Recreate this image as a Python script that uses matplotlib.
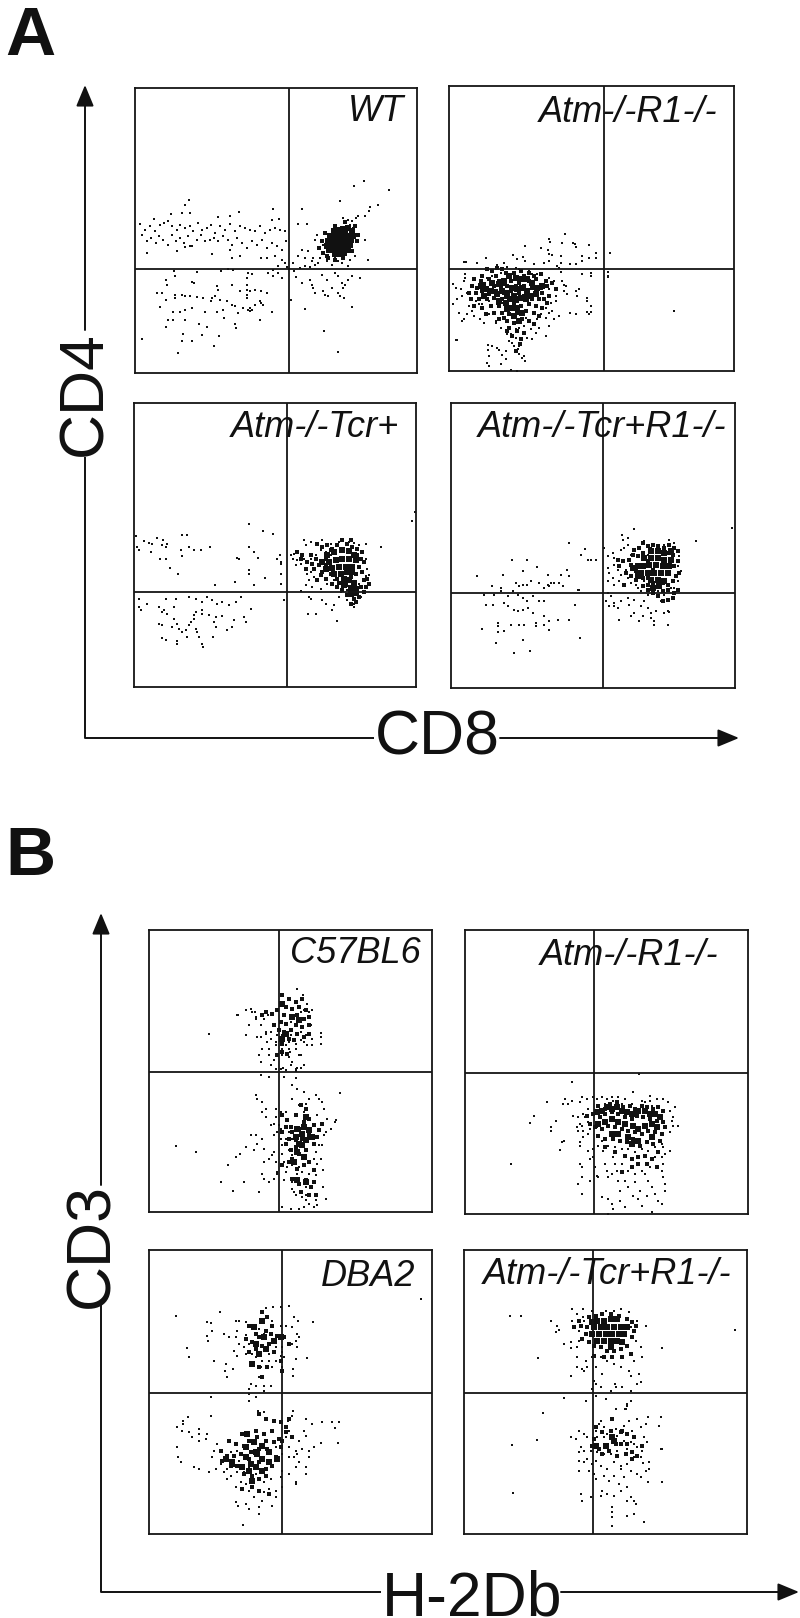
import matplotlib
matplotlib.use("Agg")
import matplotlib.pyplot as plt

plt.rcParams['font.family'] = ['Liberation Sans', 'DejaVu Sans']

W, H = 800, 1618

# (channel x, channel y)
WT_EVENTS = [(161,520),(151,505),(141,480),(166,480),(109,478),(56,463),(311,483),(284,472),(414,492),(411,460),(431,462),(248,468),
    (16,448),(30,430),(45,440),(60,425),(75,445),(88,450),(100,455),(112,440),(125,430),(135,445),(150,435),(165,440),(175,425),(190,450),(200,430),(215,435),(228,445),(240,420),(255,440),(270,430),(285,448),(300,425),(315,440),(330,435),(345,430),(360,425),(375,440),(390,420),(405,430),(420,435),(435,430),(450,425),
    (20,415),(35,395),(48,405),(62,390),(72,410),(85,400),(98,385),(110,415),(122,395),(135,405),(148,390),(160,410),(172,380),(185,400),(198,415),(210,395),(225,400),(238,405),(250,395),(265,410),(280,400),(292,385),(305,405),(320,390),(335,375),(350,395),(365,385),(380,400),(395,375),(410,390),(425,380),(440,370),(452,395),
    (35,360),(125,365),(232,358),(150,378),(165,382),(285,370),(315,350),(290,345),(378,345),(395,345),(420,350),(440,340),(450,330),(455,318),(430,322),(415,310),
    (475,330),(490,350),(500,370),(510,345),(520,365),(530,335),(540,325),(555,345),(565,385),(495,315),(510,320),(525,318),(535,345),(548,330),(575,335),(590,325),(600,345),(620,330),(640,320),(560,400),(490,448),(515,447),(545,415),(540,400),(700,340),
    (664,465),(650,455),(640,460),(625,465),(690,400),(668,395),(672,410),(660,350),(645,340),(620,345),(610,335),
    (118,305),(120,292),(185,302),(258,305),(280,312),(295,310),(340,300),(350,298),(400,300),(415,290),(430,300),(440,285),(92,280),(95,265),(172,272),(178,270),(245,260),(250,250),(335,285),(335,265),(335,250),(335,235),(335,225),(290,265),(315,245),(345,245),(360,250),(378,245),(395,240),
    (67,240),(82,240),(120,235),(120,225),(140,233),(150,232),(165,230),(185,228),(205,225),(230,225),(240,230),(228,215),(255,218),(275,215),(290,205),(300,200),(325,195),(345,195),(360,205),(378,210),(340,190),(345,185),(350,188),
    (75,198),(92,220),(115,182),(135,183),(150,190),(170,195),(210,183),(245,182),(265,190),(308,180),(412,183),(375,215),(385,205),
    (468,218),(477,305),(482,288),(500,270),(525,280),(530,265),(535,255),(540,240),(560,295),(575,280),(565,245),(590,255),(600,300),(610,290),(620,270),(630,265),(640,280),(625,255),(615,232),(608,240),(628,225),(650,290),(675,285),(570,235),(580,232),
    (21,102),(128,60),(238,80),(141,95),(171,95),(144,117),(201,115),(253,112),(93,137),(216,137),(304,135),(299,148),(191,148),(99,158),(114,158),(149,158),(376,158),(268,165),(609,64),(568,127),(511,193),(651,198),
    (688,576),(656,560),(761,550),(729,504),(706,498),(701,485),(691,472),(669,470),(614,515),(502,492),(645,445),(655,435)]
WT_DENSE = [(560,395),(552,375),(565,360),(580,345),(600,340),(625,345),(650,365),(665,395),(668,415),(660,440),(630,452),(600,440),(570,420),(575,350)]
WT_CORE = [(596,425),(610,428),(625,432),(640,435),(650,425),(585,410),(600,412),(615,415),(630,418),(645,412),(655,410),(578,395),(592,398),(606,400),(620,402),(634,404),(648,398),(575,382),(590,382),(604,385),(618,388),(632,390),(645,384),(582,370),(598,370),(612,372),(626,375),(638,370),(600,358),(614,358),(626,360)]

ATM_EVENTS = [(348,412),(300,396),(338,385),(372,384),(378,380),(302,388),(229,376),(420,379),(380,372),(296,362),(276,370),(440,355),(482,355),(192,348),(222,342),(300,350),(310,348),(335,345),(400,345),(420,340),(440,340),
    (398,330),(362,320),(380,322),(335,325),(325,315),(300,330),(285,325),(255,322),(228,330),(205,335),(165,325),(112,340),(45,328),(50,328),(85,325),(145,318),(175,312),(200,310),(210,305),(330,308),(335,298),
    (425,295),(425,285),(477,298),(478,283),(400,290),(300,280),(315,270),(12,260),(47,290),(48,280),(45,270),(20,250),(35,245),(55,235),(40,225),(70,220),(80,210),(25,215),(12,200),(60,195),(90,200),(30,175),(38,150),(45,155),(55,170),(70,180),
    (340,270),(345,258),(352,255),(345,240),(380,240),(385,225),(354,230),(390,245),(415,220),(300,245),(320,225),(305,205),(320,210),(415,210),(425,195),(415,178),(420,170),(364,175),(380,170),(425,178),(290,190),(310,180),(330,165),(290,160),
    (75,165),(92,155),(105,145),(120,170),(140,145),(155,130),(170,120),(185,110),(200,125),(210,130),(225,135),(245,125),(260,115),(235,100),(250,95),(290,105),(270,130),(300,135),(180,90),(190,85),(200,100),(175,110),
    (118,78),(118,62),(120,45),(130,75),(145,68),(150,62),(170,60),(160,48),(170,35),(195,75),(210,75),(208,65),(210,50),(225,45),(220,38),(228,30),(115,25),(120,15),(155,22),(185,2),(205,0),(20,92),(25,92),
    (482,355),(476,285),(674,180),(100,260),(115,280),(130,285),(155,295),(180,290),(240,300),(250,290),(265,290),(100,200),(120,210),(145,200),(160,205),(300,175),(315,155),(275,170),(140,150),(230,160),(265,155)]
ATM_DENSE = [(130,300),(160,305),(195,295),(215,300),(240,295),(100,285),(140,285),(170,295),(225,285),(255,285),(275,290),(75,275),(95,270),(120,275),(150,270),(185,270),(210,265),(240,270),(262,275),(290,270),(310,265),(70,255),(85,250),(105,260),(135,255),(155,250),(175,255),(200,255),(225,255),(250,250),(275,250),(295,255),(320,245),(60,235),(80,235),(100,240),(120,230),(140,240),(165,235),(185,240),(210,235),(235,230),(260,235),(280,235),(300,225),(65,215),(90,215),(115,215),(135,220),(160,215),(180,220),(205,210),(225,225),(250,215),(270,215),(295,205),(75,195),(100,190),(125,195),(150,195),(170,200),(195,200),(215,195),(240,200),(260,195),(280,190),(110,170),(135,175),(160,175),(180,170),(205,175),(230,180),(255,175),(270,165),(150,155),(175,150),(195,145),(220,155),(240,150),(255,140),(180,130),(205,120),(225,115),(190,105),(215,95),(200,60),(212,80),(175,120),(165,160),(285,215),(145,310),(115,305)]
ATM_CORE = [(95,255),(110,245),(125,240),(105,225),(130,265),(150,260),(165,270),(180,285),(200,280),(215,275),(145,230),(160,240),(175,235),(190,250),(205,245),(220,250),(235,240),(250,265),(265,250),(150,210),(170,205),(185,215),(200,215),(215,220),(230,215),(245,225),(175,185),(190,190),(205,190),(220,175),(195,165),(210,150),(165,265),(175,225),(195,225),(260,230),(280,255),(235,275)]

TCR_EVENTS = [(346,488),(834,498),(844,525),(387,468),(418,460),(5,452),(30,437),(45,432),(55,428),(70,447),(88,440),(100,428),(85,425),(145,457),(160,457),(8,420),(15,410),(50,405),(95,420),(165,420),(140,412),(145,392),(165,420),(180,412),(200,410),(227,420),(346,420),(360,405),(372,388),(310,388),(315,385),(78,385),(97,383),(107,358),(132,338),(346,352),(346,340),(392,327),(302,314),(242,307),(360,305),(438,395),(430,385),(440,370),(440,340),(440,310),(440,375),
    (740,420),(695,430),(675,425),(660,432),(645,435),(615,435),(590,430),(565,440),(530,435),(515,425),(510,440),(480,400),(472,395),(478,385),(490,380),(500,370),(485,365),(510,385),(530,385),(545,395),(560,410),(575,405),(590,395),(520,340),(530,345),(540,330),(525,320),(515,305),(535,300),(560,295),(580,310),(600,320),(580,350),(695,385),(700,355),(705,335),(695,333),(675,310),
    (15,265),(40,250),(15,240),(20,230),(75,240),(85,225),(90,230),(100,220),(120,240),(125,265),(95,265),(165,270),(185,265),(205,255),(220,270),(235,260),(250,250),(265,255),(285,245),(305,255),(320,270),(350,235),(450,260),(180,215),(180,205),(185,225),(205,230),(225,215),(245,210),(265,212),(300,200),(330,210),(335,195),(295,180),(280,170),(240,195),(245,180),(205,220),
    (75,190),(85,185),(115,180),(120,205),(130,190),(135,175),(145,165),(155,170),(165,185),(170,195),(190,165),(195,150),(185,175),(160,150),(83,148),(97,140),(128,130),(128,138),(205,130),(238,150),(207,120),(522,218),(547,218),(595,230),(610,197),(525,270),(530,265),(565,260),(575,250),(600,245),(615,270),(640,260),(660,250),(660,240),(680,270),(500,288),(640,290),(620,285)]
TCR_DENSE = [(490,405),(505,395),(520,375),(535,370),(500,385),(550,430),(565,420),(575,385),(540,355),(555,365),(565,345),(580,425),(595,415),(610,425),(625,440),(640,430),(655,420),(670,415),(685,405),(680,385),(690,375),(670,395),(675,360),(685,345),(665,340),(650,330),(690,320),(705,310),(680,300),(690,285),(675,270),(660,265),(640,275),(625,290),(610,300),(595,310),(575,325),(560,335),(550,320),(610,325),(590,340),(575,365),(590,410),(650,440),(695,300),(700,325),(665,255),(650,250),(635,305),(615,312),(545,385),(530,395),(515,355)]
TCR_CORE = [(580,395),(600,405),(625,410),(645,408),(660,395),(565,375),(585,375),(605,380),(625,385),(645,385),(665,380),(575,355),(595,358),(615,360),(635,360),(655,360),(600,340),(620,340),(640,345),(655,345),(630,325),(645,320),(660,312),(630,305),(650,298),(665,295),(650,280),(665,282)]

TCRR1_EVENTS = [(549,477),(735,440),(844,480),(354,435),(513,459),(530,450),(402,417),(390,400),(412,385),(420,385),(435,385),(182,383),(229,383),(259,362),(155,340),(77,337),(217,350),(290,340),(347,355),(330,340),(355,335),(300,315),(310,315),(290,310),(325,315),(335,305),(380,295),(385,295),
    (123,307),(150,300),(195,315),(205,305),(215,310),(228,308),(240,320),(265,315),(280,300),(295,305),(98,280),(130,280),(150,290),(170,275),(185,290),(200,280),(215,270),(228,262),(245,275),(265,260),(280,262),(372,250),(105,248),(125,248),(160,255),(170,245),(190,235),(200,230),(215,235),(230,240),(245,225),(280,215),(295,200),(280,190),(320,205),(355,205),(140,195),(140,185),(180,188),(205,188),(218,188),(255,185),(255,195),(92,177),(142,168),(160,172),(295,175),(216,145),(134,135),(190,105),(238,112),(387,150),
    (470,285),(480,275),(465,260),(490,255),(510,262),(530,270),(475,245),(490,245),(500,240),(535,250),(550,265),(570,245),(580,260),(590,240),(600,225),(550,225),(540,215),(575,215),(600,210),(615,230),(630,260),(640,225),(650,230),(610,200),(650,190),(610,190),(655,228),(505,205),(565,200),
    (515,445),(520,420),(530,430),(510,415),(470,395),(485,405),(490,390),(460,420),(470,360),(475,345),(490,370),(500,355),(510,340),(525,355),(540,400),(530,330),(505,320),(540,315),(555,310),(570,335),(590,400),(600,420),(580,440),(615,410),(640,430),(655,445),(670,435),(685,395),(680,365),(690,350),(680,320),(660,300),(670,300),(630,300),(600,305),(580,320),(485,330),(490,310),(470,320),(560,300),(640,280),(655,290),(620,290),(590,280),(570,290)]
TCRR1_DENSE = [(535,385),(545,400),(550,415),(565,420),(575,435),(590,425),(605,430),(620,425),(640,420),(655,430),(670,420),(680,410),(665,400),(680,380),(670,365),(685,345),(675,335),(665,320),(650,310),(635,315),(620,310),(605,315),(590,310),(575,305),(555,325),(540,335),(525,345),(515,380),(560,395),(575,405),(590,380),(605,355),(540,370),(555,350),(575,330),(590,330),(650,295),(635,290),(620,275),(605,285),(590,295),(670,285),(680,295),(665,270),(650,265),(635,260),(655,405),(500,385),(505,365),(520,310)]
TCRR1_CORE = [(600,410),(620,410),(640,405),(660,410),(580,390),(600,390),(620,390),(640,385),(660,385),(545,360),(560,365),(575,365),(595,370),(615,370),(635,365),(655,365),(570,345),(590,345),(610,345),(630,345),(650,345),(560,335),(600,325),(620,325),(640,320),(605,300),(625,305)]

C57_EVENTS = [(180,535),(268,590),(358,590),(318,600),(300,560),(345,580),(425,570),(455,600),(465,605),(480,600),(290,530),(265,590),(310,600),(320,580),
    (290,605),(305,610),(320,585),(335,560),(350,540),(365,520),(380,510),(405,520),(420,510),(440,505),(455,515),(465,510),(485,560),(515,538),(490,605),(475,625),(463,650),(445,670),(400,490),(380,500),(355,510),(340,490),(330,470),(360,470),(375,455),(400,470),(420,465),(430,450),(450,470),
    (515,505),(517,525),(490,520),(470,530),(490,500),(335,525),(325,525),(350,535),(365,540),(385,530),(400,530),(425,530),(440,530),(455,540),(475,500),(440,490),(420,490),(425,440),(440,430),(365,440),(380,430),(395,430),(410,500),(360,490),
    (335,450),(360,405),(335,410),(440,402),(445,432),(440,422),(455,432),(422,480),(402,432),(405,405),(410,425),(465,442),(455,470),
    (445,370),(465,360),(430,380),(573,358),(558,270),(562,275),(82,198),(140,180),(238,140),(216,90),(285,90),(252,62),(340,330),(320,350),(325,340),(340,300),(350,310),(380,310),(395,300),(410,300),(430,340),(450,320),(465,300),(470,325),(480,340),(500,350),(510,340),(520,330),(525,310),(535,280),(545,250),(530,240),(520,200),(515,160),(523,125),(522,75),(530,40),(505,20),(500,35),
    (345,150),(340,115),(345,100),(330,60),(360,90),(375,100),(385,120),(415,135),(430,140),(435,60),(430,70),(440,50),(460,45),(470,35),(480,25),(495,15),(465,15),(425,10),(400,15),(450,10),
    (320,230),(325,205),(305,230),(315,185),(290,195),(272,175),(260,165),(340,220),(345,190),(360,160),(370,170),(395,220),(375,230),(375,180),(380,150),(385,115),(385,240),(390,260),(375,265),(365,260),(350,285),(380,285),(395,250),
    (400,175),(405,150),(410,120),(405,95),(400,200),(410,220),(420,240),(430,220),(440,230),(430,190),(430,170),(440,150),(420,185),(450,135),(460,120),(480,115),(500,110),(510,200),(500,180),(505,145),(495,160),(510,250),(505,290),(525,230),(430,90),(440,90),(470,75),(445,115),(470,50)]
C57_DENSE = [(400,650),(420,640),(440,630),(460,640),(395,620),(410,615),(430,610),(450,615),(470,605),(350,600),(370,595),(385,605),(405,590),(425,585),(445,590),(465,580),(480,585),(340,590),(395,570),(410,565),(440,560),(460,555),(480,560),(375,560),(390,545),(405,540),(425,545),(445,535),(465,525),(480,535),(420,520),(435,515),(400,505),(385,470),(400,480),(415,475),
    (400,290),(415,275),(425,255),(440,290),(455,320),(470,310),(480,280),(495,260),(510,245),(465,270),(450,250),(430,240),(410,255),(400,240),(420,220),(440,215),(460,220),(480,230),(495,205),(470,185),(450,175),(430,160),(420,150),(400,140),(445,130),(465,140),(480,150),(495,125),(430,100),(450,85),(470,95),(485,75),(495,90),(410,205),(425,185),(440,195),(505,225),(520,265),(455,60),(480,50),(500,50)]
C57_CORE = [(400,625),(430,585),(450,575),(410,535),(400,520),(445,250),(465,255),(480,245),(440,225),(450,205),(470,215),(445,180),(465,165),(445,95),(470,90),(470,285),(490,225),(460,200),(435,150),(460,235)]

BATM_EVENTS = [(138,150),(320,397),(521,420),(247,335),(208,295),(196,273),(258,262),(257,248),(273,280),(291,215),(285,193),(298,218),(293,330),(300,345),(310,330),(320,340),(325,295),(335,260),(340,250),(345,335),
    (350,350),(365,345),(385,350),(395,345),(410,350),(425,345),(440,350),(460,350),(480,345),(505,365),(530,340),(555,355),(555,340),(575,345),(595,345),(610,335),(615,310),(620,280),(625,265),(640,263),(615,245),(560,325),(540,335),(500,330),(470,330),(445,340),(420,330),
    (340,290),(345,270),(350,265),(360,290),(370,275),(345,215),(355,230),(345,205),(370,190),(385,195),(345,150),(350,140),(350,110),(340,90),(350,60),(375,100),(375,165),(385,170),(390,140),(395,115),(415,190),(420,150),(425,130),(430,110),(445,170),(455,130),(460,100),(400,110),(410,50),(430,45),(440,30),(445,15),(430,0),(465,40),(480,20),(505,55),(520,45),
    (540,120),(550,100),(560,80),(570,60),(580,40),(590,30),(600,70),(600,90),(595,110),(590,130),(595,150),(590,170),(570,170),(555,140),(530,130),(510,120),(490,130),(470,150),(450,150),(440,120),(465,70),(490,80),(510,95),(525,70),(545,55),(560,5),(530,25),(480,100),
    (595,200),(600,180),(590,210),(570,200),(550,190),(530,195),(510,185),(490,195),(470,195),(450,200),(430,205),(410,220),(395,230),(355,250),(370,240),(375,255),(355,300),(370,315),(390,300),(395,260),(400,205),(425,280),(615,190),(625,290),(630,320)]
BATM_DENSE = [(400,325),(420,315),(435,330),(455,335),(475,320),(495,325),(510,315),(530,325),(545,320),(565,315),(580,320),(595,310),(385,300),(405,290),(420,300),(440,305),(460,300),(480,290),(500,285),(515,295),(535,290),(555,285),(575,280),(595,275),(390,260),(410,255),(430,265),(450,260),(470,255),(490,250),(510,245),(530,240),(550,250),(570,245),(590,240),(600,260),(400,235),(420,225),(445,225),(465,220),(485,215),(505,225),(525,205),(545,215),(565,210),(585,220),(420,200),(450,185),(480,175),(500,165),(520,170),(540,175),(560,165),(580,185),(470,125),(500,140),(520,150),(545,150),(575,140),(365,295),(375,270)]
BATM_CORE = [(395,305),(410,310),(425,320),(440,315),(455,320),(470,310),(485,305),(500,300),(520,310),(540,310),(555,300),(570,300),(585,290),(400,270),(420,275),(440,285),(460,275),(480,270),(505,265),(520,255),(540,265),(560,270),(575,260),(440,240),(460,240),(490,230),(500,210),(520,220),(560,230)]

DBA_EVENTS = [(816,705),(82,655),(491,635),(212,665),(175,637),(185,632),(190,610),(175,595),(178,580),(115,557),(120,532),(196,520),(232,510),(228,490),(235,470),(252,495),(260,640),(265,610),(290,598),(300,570),(310,540),(320,530),(335,500),(330,470),(345,430),(306,450),(320,445),(300,420),(320,410),(345,445),(365,445),(396,680),(372,680),(350,678),(420,684),(435,650),(448,640),(450,590),(440,578),(445,560),(475,528),(442,525),(433,495),(433,474),(300,436),
    (270,640),(290,635),(310,620),(330,615),(345,600),(370,640),(395,625),(410,625),(430,620),(445,600),(225,600),(240,590),(260,590),(270,570),(285,560),(255,550),(265,535),(290,540),(380,560),(400,560),(430,570),(395,535),(400,545),(360,540),(380,520),(360,520),(340,520),(350,500),(370,500),(400,500),(405,530),
    (186,410),(300,398),(327,368),(345,365),(433,370),(185,355),(118,352),(103,340),(103,330),(418,340),(470,345),(490,330),(518,335),(568,272),(570,335),(557,318),(548,335),(496,260),(515,273),(472,293),(430,355),(465,310),(450,280),(440,250),(420,310),(410,290),
    (85,320),(100,310),(120,305),(150,315),(150,300),(175,300),(150,280),(130,290),(170,285),(85,260),(88,230),(95,215),(135,200),(150,195),(180,185),(200,195),(225,185),(235,195),(255,205),(235,165),(260,140),(267,85),(283,28),(260,95),(290,90),(300,75),(330,80),(330,60),(370,85),(380,110),(380,130),(400,140),(440,155),(442,150),(400,190),(420,180),(440,200),(450,215),(470,180),(480,230),(480,250),
    (195,250),(205,270),(190,230),(215,210),(235,230),(245,245),(265,250),(270,220),(245,175),(275,155),(290,150),(300,130),(315,110),(340,100),(345,125),(360,135),(320,180),(300,200),(265,185),(285,185),(345,155),(365,165),(395,170),(420,230),(435,230),(445,240),(460,255),(470,200),(380,260),(400,240),(420,260)]
DBA_DENSE = [(340,665),(355,650),(370,625),(300,625),(320,600),(290,585),(310,575),(330,590),(350,610),(365,600),(385,595),(405,590),(420,570),(300,545),(320,555),(340,565),(360,570),(375,545),(395,520),(355,500),(330,500),(400,490),(340,470),
    (330,360),(350,345),(375,340),(395,335),(410,320),(420,345),(320,310),(345,300),(370,310),(390,285),(410,305),(280,300),(300,280),(325,290),(350,280),(375,275),(395,260),(240,280),(260,270),(285,265),(305,245),(330,255),(355,255),(380,230),(215,250),(235,235),(255,235),(275,240),(300,225),(330,215),(350,195),(370,205),(245,205),(265,205),(285,180),(310,175),(330,165),(350,175),(280,135),(310,140),(330,130),(360,120),(400,280),(430,290),(220,220)]
DBA_CORE = [(315,620),(340,640),(345,590),(320,570),(375,580),(350,555),(330,540),(310,510),(395,590),(340,265),(360,245),(290,260),(315,275),(230,225),(250,215),(280,200),(300,190),(320,200),(290,230),(340,225),(320,245),(295,300),(340,190),(360,215),(385,225),(310,160),(325,240),(305,210)]

BTCR_EVENTS = [(812,612),(171,655),(138,655),(222,527),(595,557),(301,407),(320,473),(322,557),(355,495),(325,675),(358,675),(262,640),(280,625),(285,612),(275,605),(300,570),(320,575),(340,530),(360,490),(325,640),(340,660),(358,650),(385,670),(425,670),(450,670),(470,675),(495,665),(520,640),(545,625),(533,530),(532,560),(500,620),(500,475),(525,480),(530,455),(500,400),(490,390),(415,480),(395,500),(390,460),(365,400),(385,435),(395,450),
    (365,520),(370,500),(385,530),(390,560),(410,530),(430,520),(450,510),(470,500),(495,490),(510,520),(515,580),(520,450),(500,430),(475,440),(455,440),(440,430),(410,440),(395,415),(360,640),(345,610),(345,580),(340,560),(340,500),
    (237,363),(484,376),(425,405),(452,450),(490,385),(595,155),(147,123),(218,282),(143,268),(595,255),(590,255),(585,325),(553,350),(548,275),(555,215),(553,155),(538,212),(590,350),
    (455,376),(487,376),(495,340),(520,345),(530,320),(545,330),(505,310),(480,325),(455,315),(420,320),(405,330),(395,310),(370,290),(360,300),(345,310),(335,285),(320,290),(350,260),(345,245),(345,220),(360,215),(345,190),(375,190),(390,180),(395,165),(415,130),(430,120),(450,115),(470,130),(490,100),(500,110),(515,90),(510,60),(490,55),(445,50),(445,65),(445,80),(445,25),(540,35),(510,100),(380,110),(350,120),(355,100),(410,115),(545,330),(410,340),
    (400,290),(420,290),(430,300),(445,285),(460,295),(480,280),(500,275),(520,260),(535,250),(540,290),(530,230),(510,230),(490,210),(470,205),(450,215),(430,195),(420,175),(435,160),(450,175),(465,150),(480,170),(490,140),(470,195),(500,190),(520,180),(530,170),(545,190),(555,195),(510,270),(490,255),(460,250),(440,240),(420,240),(400,245),(380,250),(360,250),(395,220),(410,205),(370,225),(385,210)]
BTCR_DENSE = [(375,650),(395,655),(415,660),(440,660),(465,655),(490,645),(505,635),(370,620),(365,600),(355,585),(375,575),(390,565),(410,560),(430,550),(450,550),(470,555),(490,565),(505,590),(510,610),(390,535),(420,530),(445,530),(475,530),(500,540),(350,625),(515,625),(345,640),(330,620),
    (395,320),(415,305),(440,310),(470,270),(455,270),(430,265),(405,255),(390,285),(385,265),(415,240),(435,250),(460,235),(485,240),(505,245),(520,235),(475,310),(490,300),(510,290),(445,345),(470,305),(490,270),(505,225),(535,265)]
BTCR_CORE = [(400,640),(420,640),(440,645),(460,645),(390,620),(410,620),(430,620),(450,620),(470,620),(490,620),(385,600),(405,600),(425,600),(445,600),(465,600),(480,600),(400,580),(420,580),(440,580),(460,580),(475,575),(440,560),(385,635),(395,265),(425,265),(445,290),(450,280)]

panels = [
    # left, right, top, bottom px; split x, split y (channels); label, label centre px; events, dense, core
    (135, 417, 88, 373, 461, 313, "WT", 376, 111, WT_EVENTS, WT_DENSE, WT_CORE),
    (449, 734, 86, 371, 464, 306, "Atm-/-R1-/-", 628, 112, ATM_EVENTS, ATM_DENSE, ATM_CORE),
    (134, 416, 403, 687, 459, 285, "Atm-/-Tcr+", 315, 427, TCR_EVENTS, TCR_DENSE, TCR_CORE),
    (451, 735, 403, 688, 456, 284, "Atm-/-Tcr+R1-/-", 602, 427, TCRR1_EVENTS, TCRR1_DENSE, TCRR1_CORE),
    (149, 432, 930, 1212, 391, 420, "C57BL6", 355, 953, C57_EVENTS, C57_DENSE, C57_CORE),
    (465, 748, 930, 1214, 386, 423, "Atm-/-R1-/-", 629, 955, BATM_EVENTS, BATM_DENSE, BATM_CORE),
    (149, 432, 1250, 1534, 398, 423, "DBA2", 368, 1277, DBA_EVENTS, DBA_DENSE, DBA_CORE),
    (464, 747, 1250, 1534, 387, 422, "Atm-/-Tcr+R1-/-", 607, 1275, BTCR_EVENTS, BTCR_DENSE, BTCR_CORE),
]

fig = plt.figure(figsize=(W / 100, H / 100), dpi=100, facecolor='white')

# page-level layer in pixels for letters and arrows
page = fig.add_axes([0, 0, 1, 1], zorder=5)
page.set_xlim(0, W)
page.set_ylim(H, 0)
page.axis('off')
page.patch.set_alpha(0)

for l, r, t, b, vx, hy, label, lx, ly, events, dense, core in panels:
    ax = fig.add_axes([l / W, 1 - b / H, (r - l) / W, (b - t) / H])
    ax.set_xlim(0, (r - l) * 3)
    ax.set_ylim(0, (b - t) * 3)
    ax.set_xticks([])
    ax.set_yticks([])
    for s in ax.spines.values():
        s.set_linewidth(1.3)
        s.set_color('#151515')
    ax.axvline(vx, color='#151515', lw=1.3)
    ax.axhline(hy, color='#151515', lw=1.3)
    ax.scatter([p[0] for p in events], [p[1] for p in events], s=4.5, marker='s', color='#111111', linewidths=0)
    ax.scatter([p[0] for p in dense], [p[1] for p in dense], s=7, marker='s', color='#111111', linewidths=0)
    ax.scatter([p[0] for p in core], [p[1] for p in core], s=22, marker='s', color='#111111', linewidths=0)
    page.text(lx, ly, label, fontsize=26, style='italic', ha='center', va='center', color='#111111')


def arrow(x0, y0, x1, y1):
    page.annotate('', xy=(x1, y1), xytext=(x0, y0),
                  arrowprops=dict(arrowstyle='-|>,head_length=1.3,head_width=0.54', color='#111111', lw=1.4,
                                  shrinkA=0, shrinkB=0, mutation_scale=10))


def line(xs, ys):
    page.plot(xs, ys, color='#111111', lw=1.4, solid_capstyle='butt')


# panel A axes
arrow(85, 330, 85, 85)
line([85, 85, 374], [457, 738, 738])
arrow(500, 738, 739, 738)
page.text(85, 394, "CD4", fontsize=45, rotation=90, ha='center', va='center', color='#111111')
page.text(437, 738, "CD8", fontsize=45, ha='center', va='center', color='#111111')

# panel B axes
arrow(101, 1185, 101, 913)
line([101, 101, 381], [1305, 1592, 1592])
arrow(561, 1592, 799, 1592)
page.text(92, 1245, "CD3", fontsize=45, rotation=90, ha='center', va='center', color='#111111')
page.text(472, 1615, "H-2Db", fontsize=45, ha='center', va='baseline', color='#111111')

page.text(5, 37, "A", fontsize=50, fontweight='bold', ha='left', va='center', color='#111111')
page.text(5, 857, "B", fontsize=50, fontweight='bold', ha='left', va='center', color='#111111')

fig.savefig("out.png", dpi=100, facecolor='white')
